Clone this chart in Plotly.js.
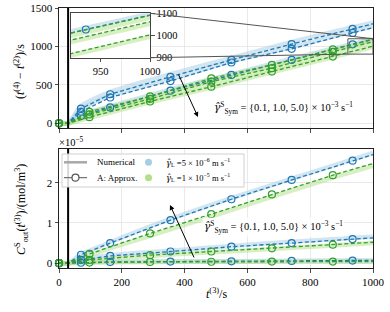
<!DOCTYPE html>
<html><head><meta charset="utf-8">
<script src="https://cdn.plot.ly/plotly-3.0.1.min.js"></script>
<style>html,body{margin:0;padding:0;background:#fff}#chart{width:390px;height:312px}</style>
</head><body><div id="chart"></div>
<script>
// ---------------- data ----------------
const tOnset = 29;          // vertical marker time
const tEnd = 1000;
const tBlue = [0, 70, 163, 355, 549, 741, 935];
const tGreen = [0, 97, 290, 485, 678, 872];
const shearRates = ['0.1', '1.0', '5.0'];

// top panel: t(4) - t(2) [s], approximation (circles) for 3 shear rates
const dtBlueApprox1 = [0, 190, 378, 605, 825, 1030, 1228];
const dtBlueApprox2 = [0, 150, 336, 550, 791, 969, 1176];
const dtBlueApprox3 = [0, 95, 206, 425, 630, 825, 1027];
const dtBlueApproxEnd = [1295, 1245, 1092];
const dtGreenApprox1 = [0, 150, 350, 584, 760, 963];
const dtGreenApprox2 = [0, 115, 318, 541, 717, 930];
const dtGreenApprox3 = [0, 80, 284, 476, 673, 868];
const dtGreenApproxEnd = [1091, 1062, 1003];
// top panel: numerical (at 0, onset, sample times, end)
const dtBlueNum1 = [0, 0, 225, 410, 640, 850, 1060, 1250, 1310];
const dtBlueNum2 = [0, 0, 180, 360, 575, 805, 990, 1195, 1262];
const dtBlueNum3 = [0, 0, 110, 222, 440, 640, 840, 1034, 1098];
const dtGreenNum1 = [0, 0, 140, 340, 570, 750, 950, 1080];
const dtGreenNum2 = [0, 0, 105, 305, 528, 708, 922, 1052];
const dtGreenNum3 = [0, 0, 72, 272, 466, 664, 860, 995];

// bottom panel: C_out^S (x 1e-5 mol/m^3)
const cBlueApprox1 = [0, 0.21, 0.50, 1.07, 1.59, 2.07, 2.55];
const cBlueApprox2 = [0, 0.08, 0.18, 0.29, 0.41, 0.50, 0.60];
const cBlueApprox3 = [0, 0.01, 0.03, 0.04, 0.045, 0.055, 0.065];
const cBlueApproxEnd = [2.70, 0.63, 0.07];
const cGreenApprox1 = [0, 0.23, 0.74, 1.22, 1.71, 2.19];
const cGreenApprox2 = [0, 0.08, 0.20, 0.29, 0.37, 0.46];
const cGreenApprox3 = [0, 0.015, 0.03, 0.035, 0.04, 0.04];
const cGreenApproxEnd = [2.48, 0.52, 0.04];
const cBlueNum1 = [0, 0, 0.22, 0.52, 1.10, 1.62, 2.10, 2.58, 2.74];
const cBlueNum2 = [0, 0, 0.09, 0.20, 0.31, 0.43, 0.53, 0.63, 0.66];
const cBlueNum3 = [0, 0, 0.015, 0.035, 0.045, 0.05, 0.06, 0.07, 0.075];
const cGreenNum1 = [0, 0, 0.20, 0.68, 1.16, 1.65, 2.13, 2.42];
const cGreenNum2 = [0, 0, 0.07, 0.18, 0.27, 0.35, 0.44, 0.50];
const cGreenNum3 = [0, 0, 0.015, 0.03, 0.035, 0.04, 0.04, 0.04];

const xTicks = [0, 200, 400, 600, 800, 1000];
const yTopTicks = [0, 500, 1000, 1500];
const yBotTicks = [0, 1, 2];
const insetXTicks = [950, 1000];
const insetYTicks = [900, 1000, 1100];

// ---------------- layout helpers ----------------
const W = 390, H = 312;
const px = v => v / W, py = v => 1 - v / H;
const xDom = [px(59), px(373)];
const yTopDom = [py(128), py(8)];
const yBotDom = [py(268), py(149)];
const inXDom = [px(71), px(150)];
const inYDom = [py(57.7), py(13.3)];
const xRange = [0, 1000], yTopRange = [-61, 1500], yBotRange = [-0.12, 2.84];
const inXRange = [920, 1000], inYRange = [900, 1100];

const BLUE = '#1f78b4', BLUE_L = 'rgba(166,206,227,0.5)';
const GREEN = '#33a02c', GREEN_L = 'rgba(178,223,138,0.5)';
const FONT = 'Liberation Serif, DejaVu Serif, serif';

const tBlueLine = [tBlue[0], tOnset, ...tBlue.slice(1), tEnd];
const tGreenLine = [tGreen[0], tOnset, ...tGreen.slice(1), tEnd];

function lineY(vals, endVal) { return [vals[0], vals[0], ...vals.slice(1), endVal]; }

const traces = [];
function addSet(xa, ya, clip, numB, appB, endB, numG, appG, endG) {
  numB.forEach(v => traces.push({x: tBlueLine, y: v, xaxis: xa, yaxis: ya, mode: 'lines',
    line: {color: BLUE_L, width: 4.5, shape: 'spline', smoothing: 0.6}, hoverinfo: 'skip', showlegend: false}));
  numG.forEach(v => traces.push({x: tGreenLine, y: v, xaxis: xa, yaxis: ya, mode: 'lines',
    line: {color: GREEN_L, width: 4.5, shape: 'spline', smoothing: 0.6}, hoverinfo: 'skip', showlegend: false}));
  appB.forEach((v, i) => {
    traces.push({x: tBlueLine, y: lineY(v, endB[i]), xaxis: xa, yaxis: ya, mode: 'lines',
      line: {color: BLUE, width: 1.3, dash: '4px,2.5px'}, showlegend: false, hoverinfo: 'skip'});
    traces.push({x: tBlue, y: v, xaxis: xa, yaxis: ya, mode: 'markers', cliponaxis: clip,
      marker: {symbol: 'circle-open', size: 7, color: BLUE, line: {width: 1.2}}, showlegend: false});
  });
  appG.forEach((v, i) => {
    traces.push({x: tGreenLine, y: lineY(v, endG[i]), xaxis: xa, yaxis: ya, mode: 'lines',
      line: {color: GREEN, width: 1.3, dash: '4px,2.5px'}, showlegend: false, hoverinfo: 'skip'});
    traces.push({x: tGreen, y: v, xaxis: xa, yaxis: ya, mode: 'markers', cliponaxis: clip,
      marker: {symbol: 'circle-open', size: 7, color: GREEN, line: {width: 1.2}}, showlegend: false});
  });
}
const topSets = [[dtBlueNum1, dtBlueNum2, dtBlueNum3], [dtBlueApprox1, dtBlueApprox2, dtBlueApprox3], dtBlueApproxEnd,
                 [dtGreenNum1, dtGreenNum2, dtGreenNum3], [dtGreenApprox1, dtGreenApprox2, dtGreenApprox3], dtGreenApproxEnd];
addSet('x', 'y', false, ...topSets);
addSet('x2', 'y2', false,
  [cBlueNum1, cBlueNum2, cBlueNum3], [cBlueApprox1, cBlueApprox2, cBlueApprox3], cBlueApproxEnd,
  [cGreenNum1, cGreenNum2, cGreenNum3], [cGreenApprox1, cGreenApprox2, cGreenApprox3], cGreenApproxEnd);
addSet('x3', 'y3', true, ...topSets);

const tickFont = {family: FONT, size: 11, color: '#000'};
const baseAxis = {showline: true, mirror: true, linecolor: '#222', linewidth: 1, ticks: 'outside', ticklen: 3.5,
  tickwidth: 0.8, tickcolor: '#222', zeroline: false, showgrid: true, gridcolor: '#e3e3e3', gridwidth: 0.8,
  tickfont: tickFont, fixedrange: true};

// map main-top data coordinates to paper
function topToPaper(xv, yv) {
  return [xDom[0] + (xv - xRange[0]) / (xRange[1] - xRange[0]) * (xDom[1] - xDom[0]),
          yTopDom[0] + (yv - yTopRange[0]) / (yTopRange[1] - yTopRange[0]) * (yTopDom[1] - yTopDom[0])];
}
const rectTR = topToPaper(inXRange[1], inYRange[1]);
const rectBL = topToPaper(inXRange[0], inYRange[0]);

const GRAYC = '#555';
const shapes = [
  {type: 'line', xref: 'x', yref: 'y domain', x0: tOnset, x1: tOnset, y0: 0, y1: 1, line: {color: '#000', width: 2}},
  {type: 'line', xref: 'x2', yref: 'y2 domain', x0: tOnset, x1: tOnset, y0: 0, y1: 1, line: {color: '#000', width: 2}},
  {type: 'rect', xref: 'x', yref: 'y', x0: inXRange[0], x1: inXRange[1], y0: inYRange[0], y1: inYRange[1],
    line: {color: GRAYC, width: 1}},
  {type: 'line', xref: 'paper', yref: 'paper', x0: inXDom[1], y0: inYDom[1], x1: rectTR[0], y1: rectTR[1], line: {color: GRAYC, width: 1}},
  {type: 'line', xref: 'paper', yref: 'paper', x0: inXDom[1], y0: inYDom[0], x1: rectBL[0], y1: rectBL[1], line: {color: GRAYC, width: 1}},
  // legend frame
  {type: 'rect', xref: 'paper', yref: 'paper', x0: px(62), x1: px(244), y0: py(187), y1: py(154),
    line: {color: '#d0d0d0', width: 1}, fillcolor: 'rgba(255,255,255,0.85)'},
  {type: 'line', xref: 'paper', yref: 'paper', x0: px(64), x1: px(87), y0: py(162.3), y1: py(162.3), line: {color: '#a8a8a8', width: 2.5}},
  {type: 'line', xref: 'paper', yref: 'paper', x0: px(64), x1: px(87), y0: py(177.7), y1: py(177.7), line: {color: '#555', width: 1}},
  {type: 'circle', xref: 'paper', yref: 'paper', x0: px(72), x1: px(79), y0: py(181.2), y1: py(174.2), line: {color: '#555', width: 1.2}, fillcolor: '#fff'},
  {type: 'circle', xref: 'paper', yref: 'paper', x0: px(145), x1: px(152), y0: py(165.8), y1: py(158.8), line: {width: 0}, fillcolor: '#a6cee3'},
  {type: 'circle', xref: 'paper', yref: 'paper', x0: px(145), x1: px(152), y0: py(181.2), y1: py(174.2), line: {width: 0}, fillcolor: '#b2df8a'}
];

const GAM = '<span style="font-family:DejaVu Serif">γ̂</span>';
const gammaText = '<i>' + GAM + '</i><sup>S</sup><sub>Sym</sub> = {' + shearRates.join(', ') + '} × 10<sup>−3</sup> s<sup>−1</sup>';
const af = (s) => ({family: FONT, size: s, color: '#000'});
const annotations = [
  {xref: 'paper', yref: 'paper', x: px(19), y: py(72), text: '(<i>t</i><sup>(4)</sup> − <i>t</i><sup>(2)</sup>)/s',
    textangle: -90, showarrow: false, font: af(12), xanchor: 'center', yanchor: 'middle'},
  {xref: 'paper', yref: 'paper', x: px(21), y: py(210), text: '<i>C</i><sup>S</sup><sub>out</sub>(<i>t</i><sup>(3)</sup>)/(mol/m<sup>3</sup>)',
    textangle: -90, showarrow: false, font: af(12), xanchor: 'center', yanchor: 'middle'},
  {xref: 'paper', yref: 'paper', x: px(216), y: py(293), text: '<i>t</i><sup>(3)</sup>/s',
    showarrow: false, font: af(12), xanchor: 'center', yanchor: 'middle'},
  {xref: 'paper', yref: 'paper', x: px(57), y: py(142), text: '×10<sup>−5</sup>',
    showarrow: false, font: af(10.5), xanchor: 'left', yanchor: 'middle'},
  {xref: 'paper', yref: 'paper', x: px(283), y: py(108), text: gammaText,
    showarrow: false, font: af(10.5), xanchor: 'center', yanchor: 'middle'},
  {xref: 'paper', yref: 'paper', x: px(273), y: py(227), text: gammaText, bgcolor: 'rgba(255,255,255,0.8)',
    showarrow: false, font: af(10.5), xanchor: 'center', yanchor: 'middle'},
  {xref: 'paper', yref: 'paper', x: px(198), y: py(117), ax: -22.5, ay: -49, text: ' ', showarrow: true,
    arrowhead: 2, arrowsize: 1, arrowwidth: 1, arrowcolor: '#000', standoff: 0},
  {xref: 'paper', yref: 'paper', x: px(170), y: py(205), ax: 27, ay: 59, text: ' ', showarrow: true,
    arrowhead: 2, arrowsize: 1, arrowwidth: 1, arrowcolor: '#000', standoff: 0},
  {xref: 'paper', yref: 'paper', x: px(95), y: py(162.3), text: 'Numerical', showarrow: false, font: af(9), xanchor: 'left', yanchor: 'middle'},
  {xref: 'paper', yref: 'paper', x: px(95), y: py(177.7), text: 'A: Approx.', showarrow: false, font: af(9), xanchor: 'left', yanchor: 'middle'},
  {xref: 'paper', yref: 'paper', x: px(164), y: py(162.3), text: '<i>' + GAM + '</i><sub>L</sub> =5 × 10<sup>−6</sup> m s<sup>−1</sup>', showarrow: false, font: af(8.5), xanchor: 'left', yanchor: 'middle'},
  {xref: 'paper', yref: 'paper', x: px(164), y: py(177.7), text: '<i>' + GAM + '</i><sub>L</sub> =1 × 10<sup>−5</sup> m s<sup>−1</sup>', showarrow: false, font: af(8.5), xanchor: 'left', yanchor: 'middle'}
];

const layout = {
  width: W, height: H, margin: {l: 0, r: 0, t: 0, b: 0}, paper_bgcolor: '#fff', plot_bgcolor: '#fff',
  showlegend: false, font: {family: FONT, size: 11, color: '#000'},
  xaxis: Object.assign({}, baseAxis, {domain: xDom, range: xRange, anchor: 'y', tickvals: xTicks, showticklabels: false}),
  yaxis: Object.assign({}, baseAxis, {domain: yTopDom, range: yTopRange, anchor: 'x', tickvals: yTopTicks}),
  xaxis2: Object.assign({}, baseAxis, {domain: xDom, range: xRange, anchor: 'y2', tickvals: xTicks}),
  yaxis2: Object.assign({}, baseAxis, {domain: yBotDom, range: yBotRange, anchor: 'x2', tickvals: yBotTicks}),
  xaxis3: Object.assign({}, baseAxis, {domain: inXDom, range: inXRange, anchor: 'y3', tickvals: insetXTicks,
    showgrid: false, linecolor: '#444', tickfont: {family: FONT, size: 10.5, color: '#000'}}),
  yaxis3: Object.assign({}, baseAxis, {domain: inYDom, range: inYRange, anchor: 'x3', tickvals: insetYTicks, side: 'right',
    showgrid: false, linecolor: '#444', tickfont: {family: FONT, size: 10.5, color: '#000'}}),
  shapes: shapes, annotations: annotations
};
Plotly.newPlot('chart', traces, layout, {staticPlot: true, displayModeBar: false});
</script></body></html>
